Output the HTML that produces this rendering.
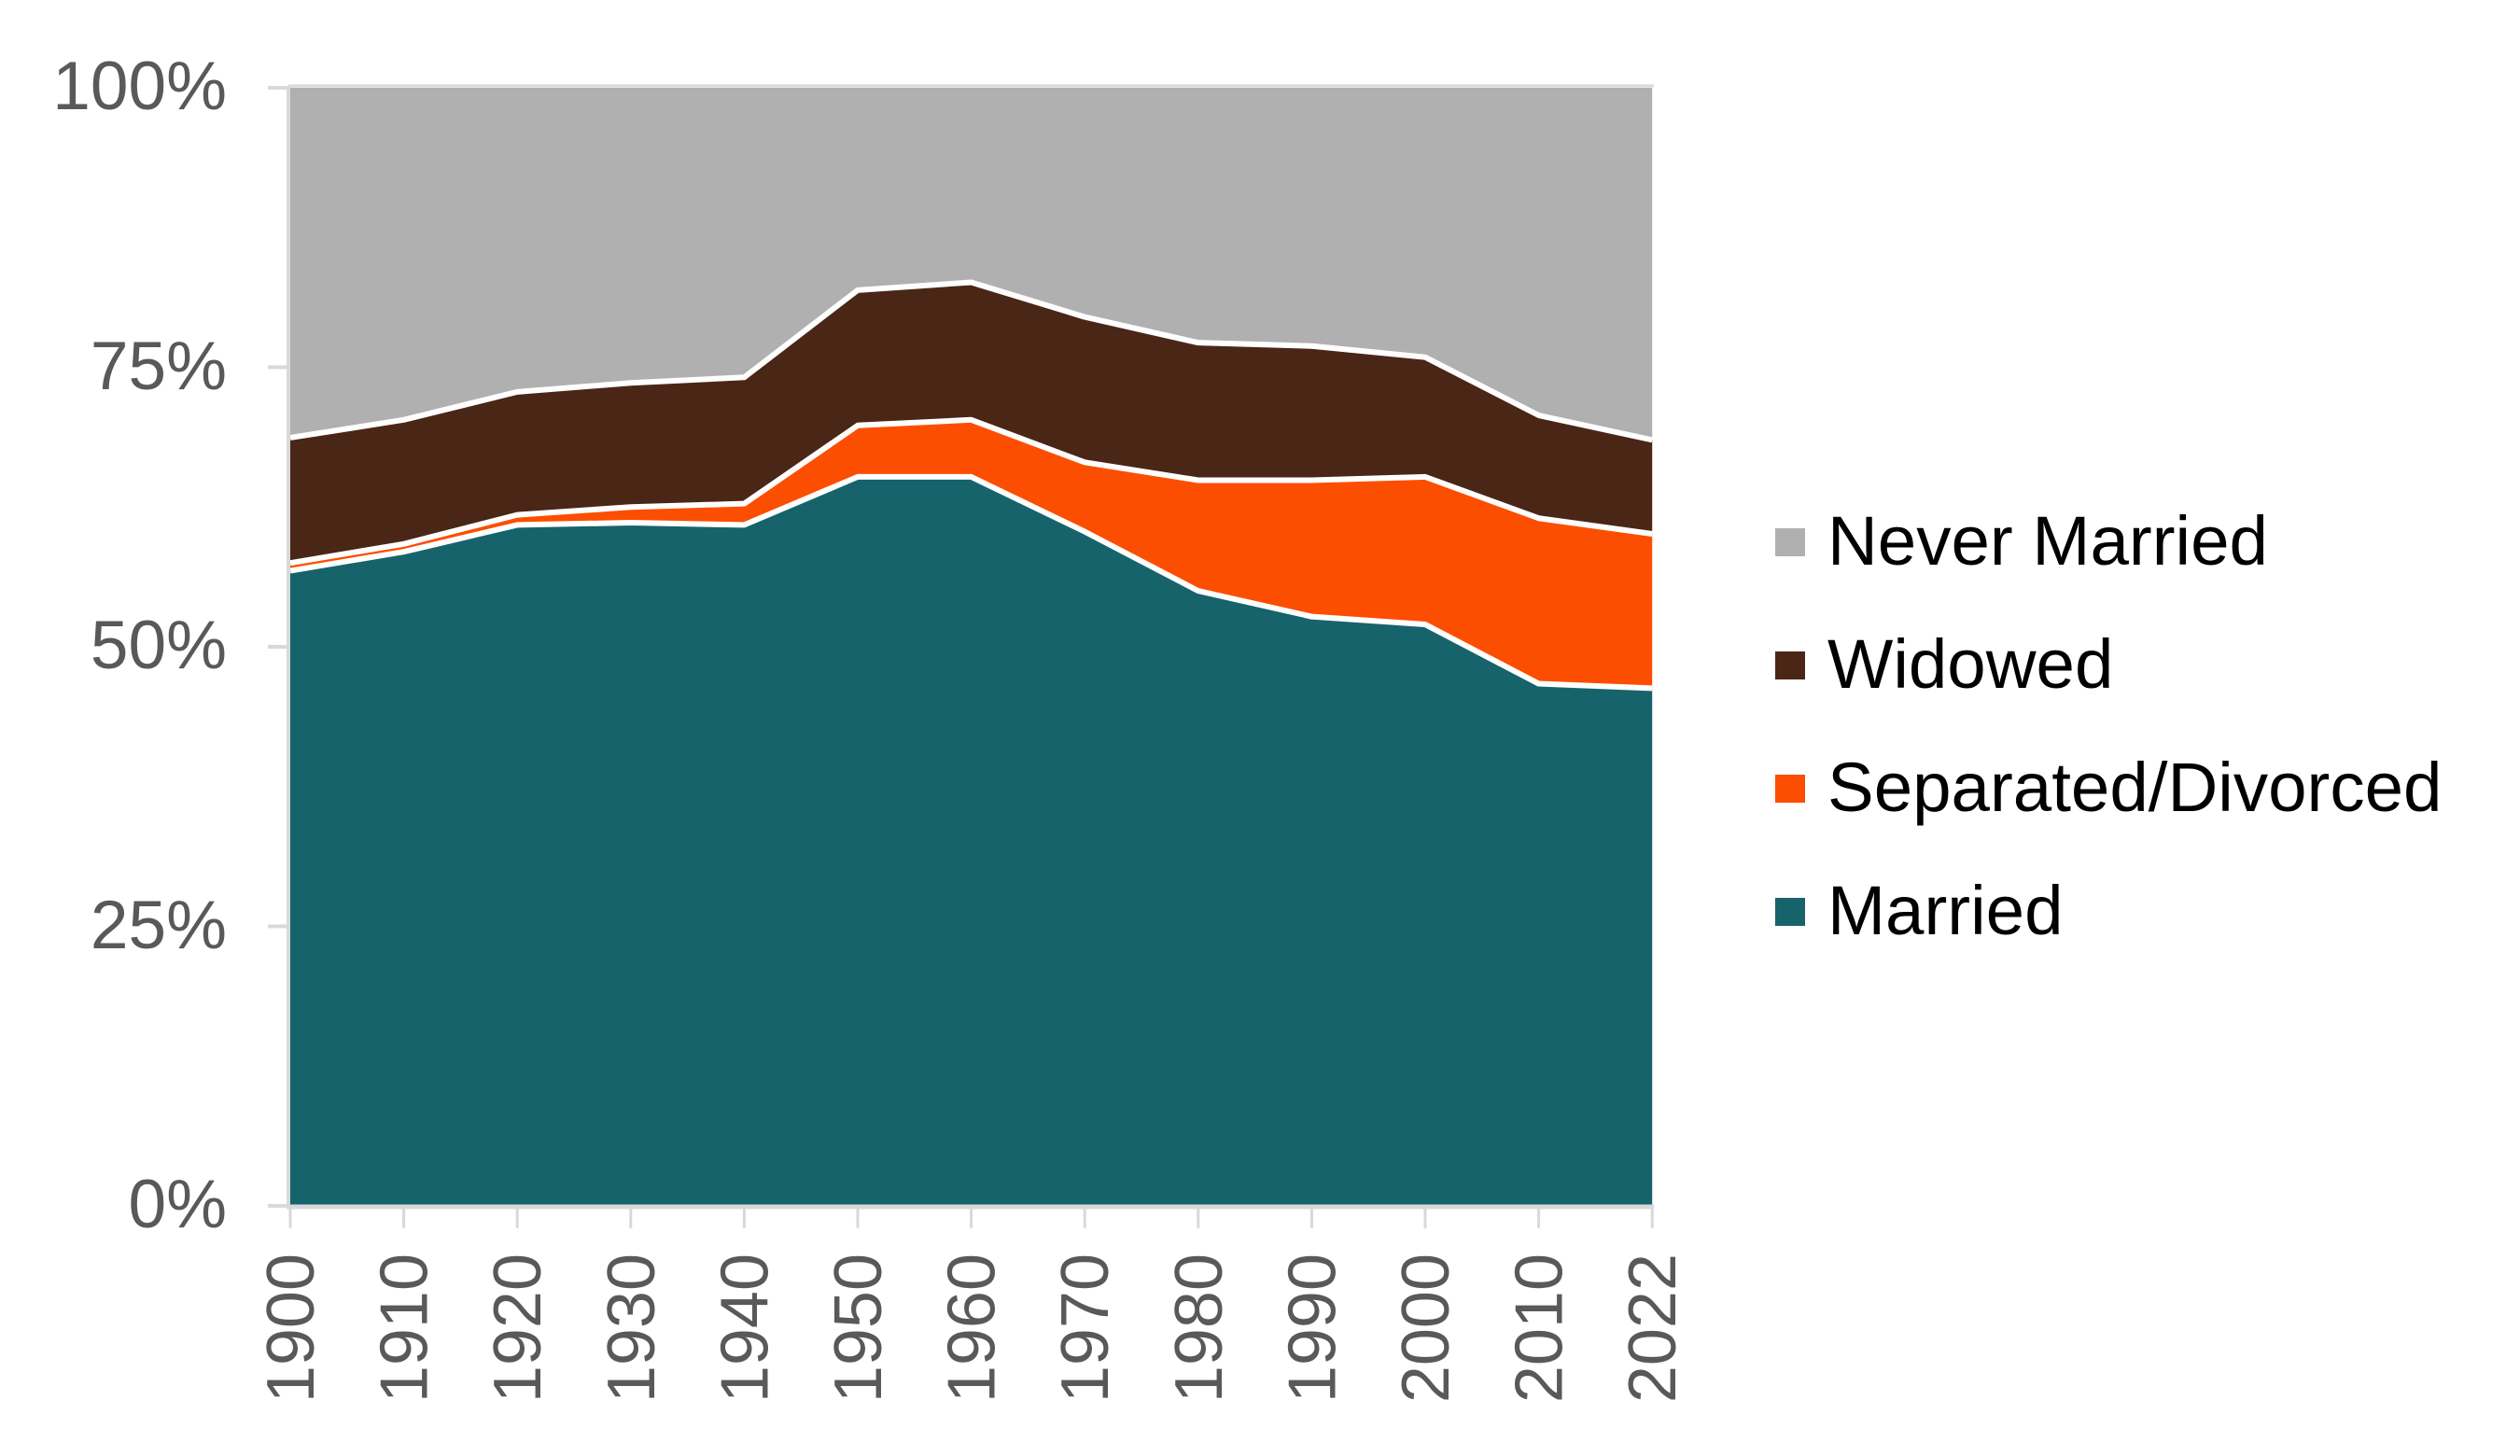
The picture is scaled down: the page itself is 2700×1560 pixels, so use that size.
<!DOCTYPE html>
<html><head><meta charset="utf-8"><style>
html,body{margin:0;padding:0;background:#fff;}
svg{display:block;font-family:"Liberation Sans",Arial,sans-serif;}
</style></head><body>
<svg width="2700" height="1560" viewBox="0 0 2700 1560" xmlns="http://www.w3.org/2000/svg">
<rect width="2700" height="1560" fill="#fff"/>
<g id="areas"></g>
<line x1="309" y1="92" x2="1772" y2="92" stroke="#d9d9d9" stroke-width="3"/>
<line x1="309" y1="92" x2="309" y2="1294" stroke="#d9d9d9" stroke-width="4"/>
<line x1="307" y1="1293" x2="1772" y2="1293" stroke="#d9d9d9" stroke-width="5"/>
<g stroke="#d9d9d9" stroke-width="4">
<line x1="287" y1="94" x2="309" y2="94"/><line x1="287" y1="393.5" x2="309" y2="393.5"/>
<line x1="287" y1="693" x2="309" y2="693"/><line x1="287" y1="992.5" x2="309" y2="992.5"/>
<line x1="287" y1="1292" x2="309" y2="1292"/>
</g>
<g id="xt" stroke="#d9d9d9" stroke-width="3"></g>
<g font-size="73" fill="#595959" text-anchor="end">
<text x="243" y="117">100%</text><text x="243" y="417">75%</text>
<text x="243" y="716">50%</text><text x="243" y="1016">25%</text><text x="243" y="1315">0%</text>
</g>
<g id="xl" font-size="72" fill="#595959" text-anchor="end"></g>
<g font-size="74.5" fill="#000">
<rect x="1902" y="566" width="32" height="30" fill="#b0b0b0"/><text x="1958" y="605">Never Married</text>
<rect x="1902" y="698" width="32" height="30" fill="#4a2617"/><text x="1958" y="737">Widowed</text>
<rect x="1902" y="830" width="32" height="30" fill="#fc4e00"/><text x="1958" y="869">Separated/Divorced</text>
<rect x="1902" y="962" width="32" height="30" fill="#17636b"/><text x="1958" y="1001">Married</text>
</g>
<script>
(function(){
var ns="http://www.w3.org/2000/svg";
var years=["1900","1910","1920","1930","1940","1950","1960","1970","1980","1990","2000","2010","2022"];
var m=[56.8,58.5,60.9,61.1,60.9,65.2,65.2,60.3,55.0,52.7,52.0,46.7,46.3];
var s=[57.5,59.2,61.8,62.5,62.8,69.8,70.3,66.5,64.9,64.9,65.2,61.5,60.1];
var w=[68.7,70.3,72.8,73.6,74.1,81.9,82.6,79.5,77.2,76.9,75.9,70.7,68.5];
var n=[100,100,100,100,100,100,100,100,100,100,100,100,100];
function X(i){return 311+i*121.6;}
function Y(v){return 1292-v*11.98;}
var zero=years.map(function(){return 0;});
var layers=[[zero,m,"#17636b"],[m,s,"#fc4e00"],[s,w,"#4a2617"],[w,n,"#b0b0b0"]];
var g=document.getElementById("areas");
layers.forEach(function(L){
 var d="";
 for(var i=0;i<13;i++)d+=(i?"L":"M")+X(i)+","+Y(L[1][i]);
 for(var i=12;i>=0;i--)d+="L"+X(i)+","+Y(L[0][i]);
 var p=document.createElementNS(ns,"path");p.setAttribute("d",d+"Z");p.setAttribute("fill",L[2]);g.appendChild(p);
});
[m,s,w].forEach(function(a){
 var d="";for(var i=0;i<13;i++)d+=(i?"L":"M")+X(i)+","+Y(a[i]);
 var p=document.createElementNS(ns,"path");p.setAttribute("d",d);p.setAttribute("fill","none");
 p.setAttribute("stroke","#fff");p.setAttribute("stroke-width","6");p.setAttribute("stroke-linejoin","round");g.appendChild(p);
});
var xt=document.getElementById("xt"),xl=document.getElementById("xl");
for(var i=0;i<13;i++){
 var l=document.createElementNS(ns,"line");l.setAttribute("x1",X(i));l.setAttribute("x2",X(i));
 l.setAttribute("y1",1294);l.setAttribute("y2",1316);xt.appendChild(l);
 var t=document.createElementNS(ns,"text");t.setAttribute("transform","translate("+(X(i)+25)+",1343) rotate(-90)");
 t.textContent=years[i];xl.appendChild(t);
}
})();
</script>
</svg>
</body></html>
